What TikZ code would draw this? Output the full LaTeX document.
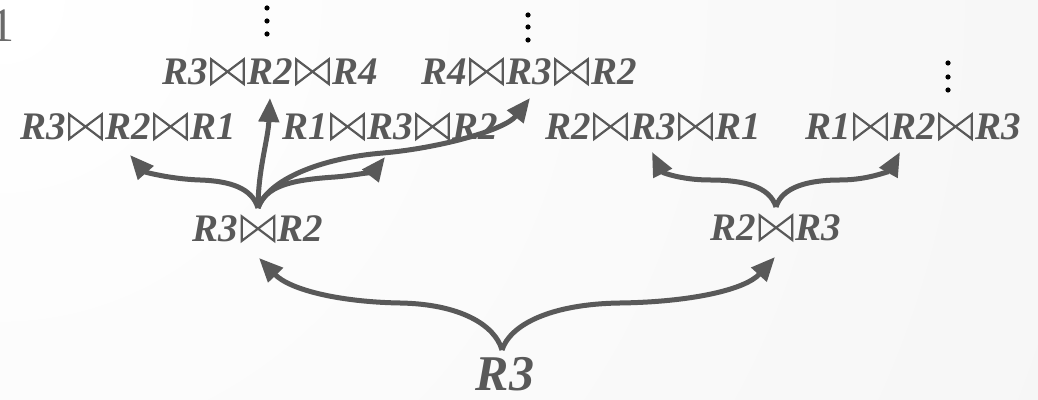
\documentclass[tikz,border=0pt]{standalone}
\usepackage{fontspec}
\setmainfont{Liberation Serif}
\usetikzlibrary{arrows.meta}
\definecolor{ink}{HTML}{595959}
\definecolor{bgfar}{HTML}{F1F1F1}
\definecolor{edgeink}{HTML}{6A6A6A}
% join symbol drawn as two hollow triangles
\newsavebox\jnbox
\newcommand\jn{\hspace{1.2pt}\usebox\jnbox\hspace{1.2pt}}

\begin{document}
\sbox\jnbox{\begin{pgfpicture}%
  \pgfsetlinewidth{1.1pt}\pgfsetstrokecolor{ink}\pgfsetmiterjoin
  \pgfpathmoveto{\pgfpoint{0.55pt}{0.55pt}}%
  \pgfpathlineto{\pgfpoint{0.55pt}{12.8pt}}%
  \pgfpathlineto{\pgfpoint{16.8pt}{0.55pt}}%
  \pgfpathlineto{\pgfpoint{16.8pt}{12.8pt}}%
  \pgfpathclose
  \pgfusepath{stroke}%
  \pgfsetbaseline{0pt}%
\end{pgfpicture}}%
\begin{tikzpicture}[x=0.5pt,y=-0.5pt,
  lbl/.style={text=ink, inner sep=0pt, anchor=base,
    font=\fontsize{19.5}{21}\selectfont\bfseries\itshape},
  big/.style={lbl, font=\fontsize{25}{28}\selectfont\bfseries\itshape},
  arr/.style={draw=ink, line width=2.5pt, -{Triangle[length=12pt,width=10pt]}},
  dot/.style={fill=black}]
\useasboundingbox (0,0) rectangle (1038,400);
% background
\begin{scope}
  \clip (0,0) rectangle (1038,400);
  \shade[inner color=white, outer color=bgfar] (0,0) circle (1800);
\end{scope}

% glyph running off the left edge
\node[anchor=base east, inner sep=0pt, text=edgeink,
  font=\fontsize{24}{24}\selectfont] (cut) at (15,42) {1};

% third level
\node[lbl] (L1a) at (270,85) {R3\jn R2\jn R4};
\node[lbl] (L1b) at (529,85) {R4\jn R3\jn R2};
% second level
\node[lbl] (L2a) at (128,140) {R3\jn R2\jn R1};
\node[lbl] (L2b) at (390,140) {R1\jn R3\jn R2};
\node[lbl] (L2c) at (653,140) {R2\jn R3\jn R1};
\node[lbl] (L2d) at (913,140) {R1\jn R2\jn R3};
% first level
\node[lbl] (M1) at (258,242) {R3\jn R2};
\node[lbl] (M2) at (776,241) {R2\jn R3};
% root
\node[big] (root) at (505,391) {R3};

% continuation dots
\foreach \y in {8,21,34} \fill[dot] (267,\y) circle (2.6);
\foreach \y in {15,27,40} \fill[dot] (528,\y) circle (2.6);
\foreach \y in {63,77,90} \fill[dot] (948,\y) circle (2.6);

% root to first level
\draw[arr] ([shift={(-3,-41)}]root.base) .. controls (495,325) and (460,304) .. (400,303)
  .. controls (340,302) and (290,290) .. ([shift={(1,16)}]M1.base);
\draw[arr] ([shift={(-3,-41)}]root.base) .. controls (510,325) and (550,304) .. (620,303)
  .. controls (690,302) and (745,290) .. ([shift={(-1,16)}]M2.base);

% R3 join R2 to its extensions
\draw[arr] ([shift={(0,-34)}]M1.base) .. controls (252,188) and (230,181) .. (200,180)
  .. controls (170,179) and (145,172) .. ([shift={(2,15)}]L2a.base);
\draw[arr] ([shift={(0,-34)}]M1.base) .. controls (258,170) and (268,140) .. ([shift={(0,13)}]L1a.base);
\draw[arr] ([shift={(0,-34)}]M1.base) .. controls (266,186) and (290,180) .. (335,177)
  .. controls (360,175) and (375,170) .. ([shift={(-5,17)}]L2b.base);
\draw[arr] ([shift={(0,-34)}]M1.base) .. controls (268,180) and (320,158) .. (383,153)
  .. controls (440,148) and (505,130) .. ([shift={(1,13)}]L1b.base);

% R2 join R3 to its extensions
\draw[arr] ([shift={(0,-34)}]M2.base) .. controls (770,187) and (745,180) .. (710,180)
  .. controls (680,180) and (662,172) .. ([shift={(-1,12)}]L2c.base);
\draw[arr] ([shift={(0,-34)}]M2.base) .. controls (782,187) and (808,180) .. (840,180)
  .. controls (870,180) and (890,170) .. ([shift={(-13,12)}]L2d.base);
\end{tikzpicture}
\end{document}
